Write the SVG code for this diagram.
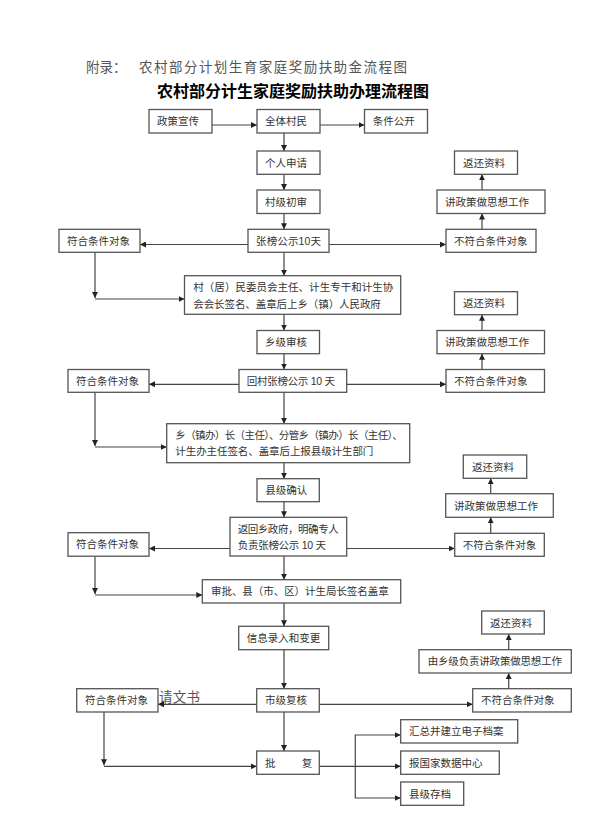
<svg xmlns="http://www.w3.org/2000/svg" width="589" height="824" viewBox="0 0 589 824">
<style>
.box{fill:#fff;stroke:#555;stroke-width:1.3}
.t{font-family:"Liberation Sans","Noto Sans CJK SC",sans-serif;font-size:10.5px;fill:#333;dominant-baseline:central}
.ln{fill:none;stroke:#444;stroke-width:1.2;marker-end:url(#ah)}
.pl{fill:none;stroke:#444;stroke-width:1.2}
.hd{font-family:"Liberation Serif","Noto Sans CJK SC",serif;font-size:13.5px;fill:#555;dominant-baseline:central}
.ttl{font-family:"Liberation Sans","Noto Sans CJK SC",sans-serif;font-size:16px;font-weight:bold;fill:#000;dominant-baseline:central}
</style>
<defs>
<marker id="ah" markerUnits="userSpaceOnUse" markerWidth="7" markerHeight="6" refX="6" refY="3" orient="auto">
<path d="M0,0 L6,3 L0,6 z" fill="#222"/>
</marker>
</defs>
<rect width="589" height="824" fill="#fff"/>
<g id="header">
<text class="hd" x="86" y="67">附录：</text>
<text class="hd" x="139" y="67" textLength="268" lengthAdjust="spacing">农村部分计划生育家庭奖励扶助金流程图</text>
<text class="ttl" x="157" y="91.5" textLength="272" lengthAdjust="spacing">农村部分计生家庭奖励扶助办理流程图</text>
<text class="hd" x="159" y="697.5" textLength="41" lengthAdjust="spacing">请文书</text>
</g>
<g id="connectors">
<path class="ln" d="M212,125 H257"/>
<path class="ln" d="M320,125 H364.5"/>
<path class="ln" d="M284,133 V151"/>
<path class="ln" d="M284,174.3 V190"/>
<path class="ln" d="M284,213.5 V229.3"/>
<path class="ln" d="M248,244.5 H140"/>
<path class="ln" d="M329,244.5 H446"/>
<path class="ln" d="M482,229.3 V213.5"/>
<path class="ln" d="M482,190 V174.3"/>
<path class="ln" d="M95,252.3 V298"/>
<path class="ln" d="M95,299 H184.5"/>
<path class="ln" d="M284,252.3 V275.7"/>
<path class="ln" d="M284,314.3 V330.5"/>
<path class="ln" d="M284,353.7 V369.5"/>
<path class="ln" d="M239,384.3 H149"/>
<path class="ln" d="M346.7,384.3 H446"/>
<path class="ln" d="M482,369.5 V353.7"/>
<path class="ln" d="M482,330.5 V314.7"/>
<path class="ln" d="M95,392.3 V446"/>
<path class="ln" d="M95,447 H166.7"/>
<path class="ln" d="M284,392.3 V423.7"/>
<path class="ln" d="M284,462.7 V478.7"/>
<path class="ln" d="M284,501.7 V517.3"/>
<path class="ln" d="M230,548.5 H149"/>
<path class="ln" d="M346.7,548.5 H454.7"/>
<path class="ln" d="M490.7,533.3 V517.3"/>
<path class="ln" d="M490.7,493.7 V478.3"/>
<path class="ln" d="M95,556.2 V594"/>
<path class="ln" d="M95,595 H202.3"/>
<path class="ln" d="M284,556 V579.7"/>
<path class="ln" d="M284,603 V626.3"/>
<path class="ln" d="M284,649.7 V688.7"/>
<path class="ln" d="M256.7,704.3 H158"/>
<path class="ln" d="M319.3,704.3 H472.7"/>
<path class="ln" d="M508.7,688.7 V673"/>
<path class="ln" d="M508.7,649.7 V634"/>
<path class="ln" d="M104,712 V765.3"/>
<path class="ln" d="M104,766.3 H256.7"/>
<path class="ln" d="M284,712 V751"/>
<path class="ln" d="M319.3,766.3 H400.7"/>
<path class="ln" d="M355.3,766.3 V735 H400.7"/>
<path class="ln" d="M355.3,766.3 V798 H400.7"/>
</g>
<g id="n1"><rect class="box" x="149" y="109.5" width="63" height="23.5"/><text class="t" x="157" y="121.2">政策宣传</text></g>
<g id="n2"><rect class="box" x="257" y="109.5" width="63" height="23.5"/><text class="t" x="265" y="121.2">全体村民</text></g>
<g id="n3"><rect class="box" x="364.5" y="109.5" width="63" height="23.5"/><text class="t" x="372.7" y="121.2">条件公开</text></g>
<g id="n4"><rect class="box" x="257" y="151" width="63" height="23.3"/><text class="t" x="265" y="162.6">个人申请</text></g>
<g id="n5"><rect class="box" x="257" y="190" width="63" height="23.5"/><text class="t" x="265" y="201.7">村级初审</text></g>
<g id="n6"><rect class="box" x="248" y="229.3" width="81" height="23"/><text class="t" x="256" y="240.8" textLength="65" lengthAdjust="spacing">张榜公示10天</text></g>
<g id="n7"><rect class="box" x="59" y="229.3" width="81" height="23"/><text class="t" x="67" y="240.8">符合条件对象</text></g>
<g id="n8"><rect class="box" x="446" y="229.3" width="90" height="23"/><text class="t" x="454" y="240.8">不符合条件对象</text></g>
<g id="n9"><rect class="box" x="437" y="190" width="108" height="23.5"/><text class="t" x="445" y="201.7">讲政策做思想工作</text></g>
<g id="n10"><rect class="box" x="454.5" y="151" width="63" height="23.3"/><text class="t" x="463" y="162.6">返还资料</text></g>
<g id="n11"><rect class="box" x="184.5" y="275.7" width="216.2" height="38.6"/><text class="t" x="193.3" y="287.3" textLength="200" lengthAdjust="spacing">村（居）民委员会主任、计生专干和计生协</text><text class="t" x="193.3" y="304" textLength="187.5" lengthAdjust="spacing">会会长签名、盖章后上乡（镇）人民政府</text></g>
<g id="n12"><rect class="box" x="257" y="330.5" width="62.5" height="23.2"/><text class="t" x="265" y="342.1">乡级审核</text></g>
<g id="n13"><rect class="box" x="239" y="369.5" width="107.7" height="22.8"/><text class="t" x="246.7" y="380.9" textLength="88.3" lengthAdjust="spacing">回村张榜公示 10 天</text></g>
<g id="n14"><rect class="box" x="68" y="369.5" width="81" height="22.8"/><text class="t" x="76" y="380.9">符合条件对象</text></g>
<g id="n15"><rect class="box" x="446" y="369.5" width="98.5" height="22.8"/><text class="t" x="454" y="380.9">不符合条件对象</text></g>
<g id="n16"><rect class="box" x="437" y="330.5" width="107.5" height="23.2"/><text class="t" x="445" y="342.1">讲政策做思想工作</text></g>
<g id="n17"><rect class="box" x="454.5" y="291.7" width="63" height="23"/><text class="t" x="463" y="303.2">返还资料</text></g>
<g id="n18"><rect class="box" x="166.7" y="423.7" width="243" height="39"/><text class="t" x="175.3" y="435" textLength="227.4" lengthAdjust="spacing">乡（镇办）长（主任）、分管乡（镇办）长（主任）、</text><text class="t" x="175.3" y="451" textLength="198" lengthAdjust="spacing">计生办主任签名、盖章后上报县级计生部门</text></g>
<g id="n19"><rect class="box" x="257" y="478.7" width="62.3" height="23"/><text class="t" x="265.3" y="490.2">县级确认</text></g>
<g id="n20"><rect class="box" x="230" y="517.3" width="116.7" height="38.7"/><text class="t" x="237.7" y="529.3" textLength="101" lengthAdjust="spacing">返回乡政府，明确专人</text><text class="t" x="237.7" y="545" textLength="88.3" lengthAdjust="spacing">负责张榜公示 10 天</text></g>
<g id="n21"><rect class="box" x="68" y="532.7" width="81" height="23.5"/><text class="t" x="76" y="544.4">符合条件对象</text></g>
<g id="n22"><rect class="box" x="454.7" y="533.3" width="89.6" height="23"/><text class="t" x="462.7" y="544.8">不符合条件对象</text></g>
<g id="n23"><rect class="box" x="445.7" y="493.7" width="107.6" height="23.6"/><text class="t" x="454" y="505.5">讲政策做思想工作</text></g>
<g id="n24"><rect class="box" x="463.3" y="455" width="63.4" height="23.3"/><text class="t" x="472" y="466.6">返还资料</text></g>
<g id="n25"><rect class="box" x="202.3" y="579.7" width="198.4" height="23.3"/><text class="t" x="211" y="591.3" textLength="177.7" lengthAdjust="spacing">审批、县（市、区）计生局长签名盖章</text></g>
<g id="n26"><rect class="box" x="238.7" y="626.3" width="90" height="23.4"/><text class="t" x="246.7" y="638">信息录入和变更</text></g>
<g id="n27"><rect class="box" x="481.7" y="611" width="62.6" height="23"/><text class="t" x="490" y="622.5">返还资料</text></g>
<g id="n28"><rect class="box" x="419" y="649.7" width="152.3" height="23.3"/><text class="t" x="427.7" y="661.3" textLength="134.3" lengthAdjust="spacing">由乡级负责讲政策做思想工作</text></g>
<g id="n29"><rect class="box" x="472.7" y="688.7" width="98.6" height="23.3"/><text class="t" x="481" y="700.3">不符合条件对象</text></g>
<g id="n30"><rect class="box" x="256.7" y="688.7" width="62.6" height="23.3"/><text class="t" x="265" y="700.3">市级复核</text></g>
<g id="n31"><rect class="box" x="76.7" y="688.7" width="81.3" height="23.3"/><text class="t" x="85" y="700.3">符合条件对象</text></g>
<g id="n32"><rect class="box" x="400.7" y="719.7" width="117" height="23.3"/><text class="t" x="409" y="731.3">汇总并建立电子档案</text></g>
<g id="n33"><rect class="box" x="400.7" y="751" width="98.6" height="23.3"/><text class="t" x="409" y="762.6">报国家数据中心</text></g>
<g id="n34"><rect class="box" x="400.7" y="782" width="63" height="23.3"/><text class="t" x="409" y="793.6">县级存档</text></g>
<g id="n35"><rect class="box" x="256.7" y="751" width="62.6" height="23.3"/><text class="t" x="265" y="762.6">批</text><text class="t" x="301.7" y="762.6">复</text></g>
</svg>
